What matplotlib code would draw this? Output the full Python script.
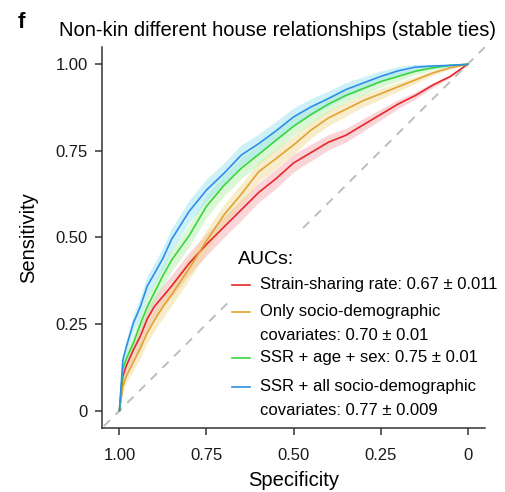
import matplotlib
matplotlib.use("Agg")
import matplotlib.pyplot as plt
from matplotlib.patches import Rectangle
from matplotlib.lines import Line2D

plt.rcParams['font.family'] = ['Liberation Sans', 'DejaVu Sans']

# shared specificity grid for the four ROC curves
specificity = [1.00, 0.99, 0.98, 0.96, 0.94, 0.92, 0.90, 0.875, 0.85, 0.80,
               0.75, 0.70, 0.65, 0.60, 0.55, 0.50, 0.45, 0.40, 0.35, 0.30,
               0.25, 0.20, 0.15, 0.10, 0.05, 0.00]

sens_ssr = [0.00, 0.10, 0.13, 0.175, 0.215, 0.265, 0.30, 0.33, 0.36, 0.425,
            0.48, 0.53, 0.58, 0.63, 0.67, 0.715, 0.745, 0.775, 0.795, 0.825,
            0.855, 0.885, 0.91, 0.94, 0.965, 1.00]
sens_socio = [0.00, 0.07, 0.10, 0.14, 0.18, 0.225, 0.26, 0.30, 0.335, 0.41,
              0.49, 0.565, 0.625, 0.69, 0.728, 0.767, 0.81, 0.845, 0.87, 0.895,
              0.915, 0.935, 0.955, 0.975, 0.99, 1.00]
sens_age_sex = [0.00, 0.12, 0.15, 0.195, 0.25, 0.30, 0.34, 0.39, 0.435, 0.505,
                0.59, 0.65, 0.70, 0.74, 0.781, 0.821, 0.855, 0.885, 0.91, 0.93,
                0.95, 0.965, 0.98, 0.99, 0.997, 1.00]
sens_all = [0.00, 0.147, 0.185, 0.253, 0.30, 0.36, 0.395, 0.44, 0.495, 0.575,
            0.637, 0.685, 0.738, 0.771, 0.808, 0.848, 0.877, 0.901, 0.927, 0.946,
            0.965, 0.981, 0.992, 0.995, 0.997, 1.00]

# half-width of the bootstrap band along the grid
ci_halfwidth = [0.0, 0.015, 0.02, 0.025, 0.028, 0.03, 0.03, 0.032, 0.032, 0.032,
                0.032, 0.03, 0.03, 0.028, 0.028, 0.026, 0.024, 0.022, 0.02, 0.018,
                0.016, 0.013, 0.01, 0.007, 0.004, 0.0]

labels = ["Strain-sharing rate: 0.67 \u00b1 0.011",
          "Only socio-demographic\ncovariates: 0.70 \u00b1 0.01",
          "SSR + age + sex: 0.75 \u00b1 0.01",
          "SSR + all socio-demographic\ncovariates: 0.77 \u00b1 0.009"]
curves = [sens_ssr, sens_socio, sens_age_sex, sens_all]
line_colors = ['#e8262c', '#e3a234', '#3ad63e', '#2f8ee6']
band_colors = ['#f3a3aa', '#efd98a', '#aeeea4', '#93e2f3']

fig = plt.figure(figsize=(5.06, 4.92), dpi=100)
ax = fig.add_axes([102 / 506, 64 / 492, 383 / 506, 381 / 492])

ax.axline((1, 0), (0, 1), color='#bdbdbd', lw=1.4, ls=(0, (4.5, 4)), zorder=1)

for sens, bc in zip(curves, band_colors):
    lo = [max(s - h, 0) for s, h in zip(sens, ci_halfwidth)]
    hi = [min(s + h, 1) for s, h in zip(sens, ci_halfwidth)]
    ax.fill_between(specificity, lo, hi, color=bc, alpha=0.45, lw=0, zorder=2)

# white box behind the AUC legend
ax.add_patch(Rectangle((0.329, 0.02), 0.671, 0.492, transform=ax.transAxes,
                       facecolor='white', edgecolor='none', zorder=3))

for sens, lc in zip(curves, line_colors):
    ax.plot(specificity, sens, color=lc, lw=1.2, zorder=4)

ax.set_xlim(1.05, -0.05)
ax.set_ylim(-0.05, 1.05)
ax.set_xticks([1.0, 0.75, 0.5, 0.25, 0.0])
ax.set_xticklabels(['1.00', '0.75', '0.50', '0.25', '0'])
ax.set_yticks([0.0, 0.25, 0.5, 0.75, 1.0])
ax.set_yticklabels(['0', '0.25', '0.50', '0.75', '1.00'])
ax.tick_params(labelsize=12, length=5, width=1.1, color='#333333',
               labelcolor='#1a1a1a', pad=5)
ax.tick_params(axis='x', pad=9.5)
for side in ['top', 'right']:
    ax.spines[side].set_visible(False)
for side in ['left', 'bottom']:
    ax.spines[side].set_linewidth(1.1)
    ax.spines[side].set_color('#333333')

# legend drawn by hand so the key sits on the first line of each entry
ax.text(0.355, 0.441, "AUCs:", transform=ax.transAxes, fontsize=14,
        ha='left', va='center', zorder=5)
entry_y = [0.375, 0.305, 0.183, 0.108]
for y, lab, lc in zip(entry_y, labels, line_colors):
    ax.add_line(Line2D([0.339, 0.386], [y, y], transform=ax.transAxes,
                       color=lc, lw=1.2, zorder=5))
    ax.text(0.4125, y + 0.021, lab, transform=ax.transAxes, fontsize=12,
            ha='left', va='top', linespacing=1.8, zorder=5)

fig.text(277.5 / 506, 1 - 31 / 492,
         "Non-kin different house relationships (stable ties)",
         fontsize=14.5, ha='center', va='center')
fig.text(21 / 506, 1 - 22 / 492, "f", fontsize=16, fontweight='bold',
         ha='center', va='center')
fig.text(293.5 / 506, 1 - 480 / 492, "Specificity", fontsize=14.5,
         ha='center', va='center')
fig.text(29 / 506, 1 - 237.5 / 492, "Sensitivity", fontsize=14.5,
         ha='center', va='center', rotation=90)

fig.savefig('out.png', dpi=100)
